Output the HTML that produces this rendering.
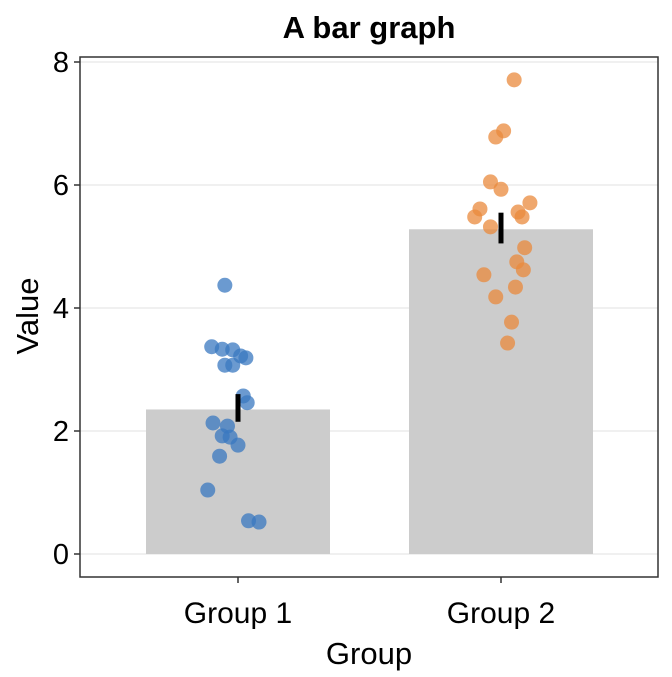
<!DOCTYPE html>
<html><head><meta charset="utf-8"><style>
body{margin:0;background:#fff}
text{font-family:"Liberation Sans",Arial,sans-serif;fill:#000}
</style></head><body>
<svg id="chart" width="672" height="672">
<text x="369" y="38" text-anchor="middle" font-size="31" font-weight="bold">A bar graph</text>
<g id="grid"></g><g id="bars"></g><g id="pts"></g><g id="axes"></g>
<text x="369" y="664" text-anchor="middle" font-size="31">Group</text>
<text transform="translate(38,316) rotate(-90)" text-anchor="middle" font-size="31">Value</text>
</svg>
<script>
const categories=["Group 1","Group 2"];
const means=[2.35,5.28];
const errLow=[2.15,5.05];
const errHigh=[2.6,5.55];
const yTicks=[0,2,4,6,8];
const g1Vals=[4.37,3.37,3.33,3.32,3.22,3.19,3.07,3.07,2.57,2.46,2.13,2.08,1.92,1.90,1.77,1.59,1.04,0.54,0.52];
const g1Jit=[-0.05,-0.10,-0.06,-0.02,0.01,0.03,-0.05,-0.02,0.02,0.035,-0.095,-0.04,-0.06,-0.03,0.0,-0.07,-0.115,0.04,0.08];
const g2Vals=[7.71,6.88,6.78,6.05,5.93,5.61,5.48,5.71,5.56,5.48,5.32,4.98,4.75,4.62,4.54,4.34,4.18,3.77,3.43];
const g2Jit=[0.05,0.01,-0.02,-0.04,0.0,-0.08,-0.1,0.11,0.065,0.08,-0.04,0.09,0.06,0.085,-0.065,0.055,-0.02,0.04,0.025];
const pts=[[g1Vals,g1Jit,"#3a78c0"],[g2Vals,g2Jit,"#e98a3c"]];
const NS="http://www.w3.org/2000/svg";
const L=80,R=658,T=57,B=577;
const y=v=>554-v*61.5;
const x=i=>238+i*263;
function mk(p,t,a){const e=document.createElementNS(NS,t);for(const k in a)e.setAttribute(k,a[k]);document.getElementById(p).appendChild(e);return e;}
yTicks.forEach(t=>{
 const l=mk('grid','line',{x1:L,x2:R,y1:y(t),y2:y(t),stroke:'#ebebeb','stroke-width':1.5});
 
 
 const tk=mk('axes','line',{x1:L-6,x2:L,y1:y(t),y2:y(t),stroke:'#333','stroke-width':1.5});
 
 
 const tx=mk('axes','text',{x:L-11,y:y(t)+10,'text-anchor':'end','font-size':29});
 tx.textContent=t;
 
 
});
categories.forEach((c,i)=>{
 const b=mk('bars','rect',{x:x(i)-92,width:184,y:y(means[i]),height:y(0)-y(means[i]),fill:'#cccccc'});
 
 
 const tk=mk('axes','line',{x1:x(i),x2:x(i),y1:B,y2:B+6,stroke:'#333','stroke-width':1.5});
 
 
 const tx=mk('axes','text',{x:x(i),y:623,'text-anchor':'middle','font-size':30});
 tx.textContent=c;
 
 
});
pts.forEach(([vals,jit,col],i)=>{
 vals.forEach((v,j)=>{
  const c=mk('pts','circle',{cx:x(i+jit[j]),cy:y(v),r:7.5,fill:col,'fill-opacity':0.75});
  
  
 });
 const e=mk('pts','line',{x1:x(i),x2:x(i),y1:y(errLow[i]),y2:y(errHigh[i]),stroke:'#000','stroke-width':5});
 
 
});
const fr=mk('axes','rect',{x:L,y:T,width:R-L,height:B-T,fill:'none',stroke:'#333','stroke-width':1.5});


</script>
</body></html>
